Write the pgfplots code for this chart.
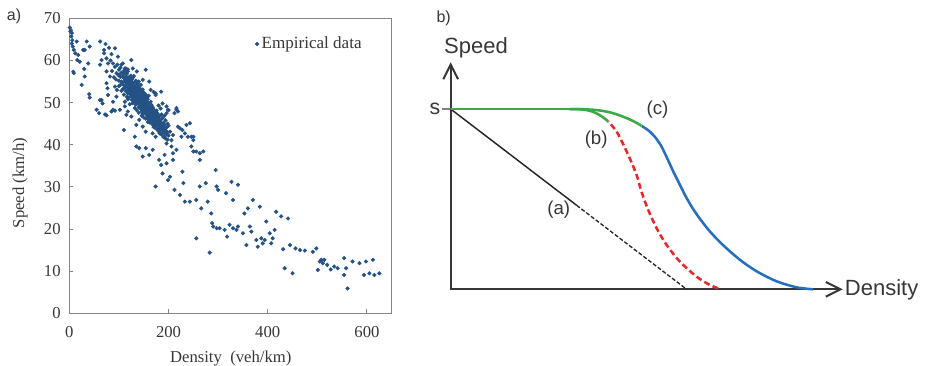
\documentclass[border=0pt]{standalone}
\usepackage{pgfplots}
\pgfplotsset{compat=1.18}
\usepackage{pgfplotstable}
\usetikzlibrary{arrows.meta}
\usepackage{fontspec}
\setmainfont{Liberation Serif}
\newfontfamily\arial{Liberation Sans}
\definecolor{dotblue}{RGB}{36,82,132}
\definecolor{textgray}{RGB}{55,55,55}
\definecolor{axgray}{RGB}{55,55,55}
\definecolor{framegray}{RGB}{134,134,134}
\definecolor{cgreen}{RGB}{60,168,70}
\definecolor{cblue}{RGB}{40,110,190}
\definecolor{cred}{RGB}{232,40,40}

\pgfplotstableread{
x y
1 67.8
2 66.9
3 67.2
4 65.7
5 66.5
6 64.8
5 64.0
7 63.3
9 62.5
15 64.5
18 61.3
16 60.1
21 59.7
9 57.0
25 54.2
35 64.5
31 62.5
30 58.0
31 56.2
40 52.0
41 51.2
38 59.3
41 63.3
12 61.7
28 62.5
8 57.3
55 48.3
60 47.5
65 50.6
67 49.8
62 59.0
65 60.1
62 64.5
73 63.9
75 47.0
70 62.5
70 61.7
75 60.5
78 59.3
82 56.2
77 53.4
75 57.4
85 47.9
92 62.9
88 59.3
92 58.5
95 57.0
92 53.8
95 51.4
88 48.3
98 60.9
72 47.2
62 50.6
88 50.2
92 48.1
78 51.8
75 54.6
83 60.0
86 57.5
94 55.5
97 59.0
80 63.0
85 61.5
90 56.0
96 53.0
99 56.5
100 55.2
100 57.8
100 53.9
100 56.6
103 56.1
103 54.2
103 58.3
105 55.0
105 57.1
105 52.8
105 59.0
108 56.3
108 54.7
108 53.2
110 55.8
110 57.6
110 51.9
110 54.1
110 56.9
112 53.5
112 55.4
112 58.1
112 50.2
114 54.9
114 56.2
114 52.7
114 57.3
114 53.8
116 55.6
116 51.4
116 54.3
116 56.8
118 53.1
118 55.0
118 52.2
118 57.9
118 54.6
118 50.8
120 54.4
120 56.0
120 52.9
120 53.6
120 51.2
120 55.3
122 53.8
122 55.7
122 52.1
122 54.9
122 49.6
124 52.6
124 54.2
124 56.4
124 51.5
124 53.3
124 55.1
126 53.9
126 52.0
126 55.5
126 50.7
126 54.6
128 52.8
128 54.0
128 51.3
128 55.9
128 53.2
128 49.9
128 52.4
130 53.5
130 51.8
130 54.7
130 50.6
130 52.9
130 56.3
132 52.2
132 53.9
132 50.1
132 54.8
132 51.5
132 48.7
134 51.9
134 53.3
134 50.8
134 55.2
134 52.6
134 49.5
136 52.7
136 50.4
136 54.1
136 51.2
136 53.6
136 48.2
138 51.4
138 53.0
138 49.8
138 52.3
138 54.6
138 50.9
140 50.6
140 52.5
140 48.9
140 53.8
140 51.7
140 47.6
140 55.0
142 51.1
142 49.7
142 52.9
142 50.3
142 53.4
144 50.2
144 51.8
144 48.5
144 52.6
144 49.3
144 54.2
146 49.9
146 51.3
146 47.8
146 52.0
146 50.7
146 46.9
148 50.5
148 48.8
148 51.9
148 49.4
148 53.1
148 47.3
150 49.6
150 51.0
150 48.2
150 50.3
150 52.4
150 46.5
150 49.0
152 50.1
152 48.6
152 51.5
152 47.5
152 49.9
154 49.2
154 50.7
154 47.9
154 48.5
154 51.9
154 46.2
156 48.8
156 50.2
156 47.1
156 49.6
156 51.3
158 48.1
158 49.5
158 46.6
158 50.8
158 47.7
158 45.4
160 48.6
160 47.2
160 49.9
160 46.0
160 48.0
160 51.6
162 47.8
162 49.1
162 46.4
162 48.5
162 45.3
164 47.3
164 48.7
164 45.9
164 50.2
164 46.8
166 46.9
166 48.2
166 45.1
166 47.6
166 49.4
168 47.5
168 46.1
168 48.9
168 44.8
168 46.6
170 46.3
170 47.9
170 45.5
170 48.4
170 44.2
170 52.5
172 45.9
172 47.2
172 44.6
172 46.7
174 46.5
174 45.2
174 47.8
174 43.9
174 51.8
176 45.7
176 44.4
176 46.9
176 48.1
178 45.0
178 46.3
178 43.6
178 47.4
180 44.8
180 46.0
180 43.2
180 45.5
180 49.3
182 45.3
182 44.1
182 46.8
182 42.7
184 44.6
184 43.5
184 45.9
184 48.6
186 43.9
186 45.1
186 42.4
186 47.2
188 44.3
188 42.9
188 46.3
190 43.6
190 45.2
190 41.8
190 44.0
192 42.8
192 44.7
192 46.9
194 43.4
194 41.5
194 45.8
196 42.5
196 44.1
196 47.5
198 43.0
198 41.2
198 45.0
200 42.2
200 44.5
200 48.2
108 59.3
114 58.1
118 57.4
125 60.1
128 58.1
136 57.4
154 57.8
148 55.4
161 55.0
164 53.0
174 52.2
185 52.6
188 49.8
196 49.1
199 48.3
102 48.3
115 47.1
118 47.9
125 46.7
112 49.1
135 44.7
141 45.9
148 44.3
154 43.1
160 45.5
168 42.7
174 41.9
180 43.5
192 41.9
196 40.3
110 43.5
132 41.9
135 39.6
141 39.2
148 37.2
154 39.2
161 37.6
168 38.8
174 30.1
181 36.4
185 35.2
188 33.2
196 35.6
199 31.6
192 37.6
203 32.4
206 39.6
209 38.0
212 29.3
223 28.1
228 33.6
230 30.9
233 26.5
243 26.5
246 39.6
250 38.4
256 26.9
256 17.8
263 30.1
263 36.4
266 24.9
270 38.4
275 30.9
279 26.5
283 14.4
286 23.7
288 21.4
290 20.6
295 34.0
297 30.1
297 20.2
300 29.3
303 20.2
313 19.8
316 28.5
318 18.2
323 21.0
327 31.2
330 26.9
330 20.2
337 19.8
340 30.5
340 20.6
350 19.0
353 23.7
357 16.2
360 24.9
364 20.6
367 19.4
370 26.9
377 17.4
380 15.8
384 25.3
387 17.8
390 16.6
394 17.4
397 21.8
404 19.0
407 16.6
410 17.8
414 19.8
417 24.1
427 23.0
431 15.2
434 10.7
441 22.5
445 16.2
450 9.5
456 15.4
465 15.0
475 14.9
491 14.6
498 15.4
501 10.3
505 12.3
508 12.7
511 11.9
514 12.7
520 11.5
527 10.4
534 11.1
541 10.7
554 9.1
554 13.1
558 10.7
561 5.9
571 12.3
585 11.9
594 9.1
598 12.3
605 9.5
612 12.7
615 9.1
625 9.5
203 43.1
206 41.1
209 42.3
212 47.5
216 48.3
219 44.3
223 43.9
226 41.9
228 43.5
233 42.7
236 44.7
239 41.9
243 45.1
246 41.9
250 41.1
250 41.9
256 38.4
263 38.0
216 38.8
209 36.4
216 48.7
219 47.9
}\scatterdata

\begin{document}
\begin{tikzpicture}
\useasboundingbox (0,0) rectangle (693.75pt,274.5pt);
\node[font=\arial\fontsize{12}{14}\selectfont, text=textgray] at (10.5pt,262.5pt) {a)};

\begin{axis}[
  at={(52pt,39.5pt)}, anchor=south west,
  scale only axis, width=241.8pt, height=221.25pt,
  xmin=0, xmax=650, ymin=0, ymax=70,
  xtick={0,200,400,600}, ytick={0,10,...,70},
  tick align=inside, major tick length=3pt, tick pos=left,
  axis line style={draw=framegray, line width=0.8pt},
  tick style={draw=framegray, line width=0.8pt},
  ticklabel style={font=\fontsize{12.5}{14}\selectfont, text=textgray},
  /pgf/number format/assume math mode=true,
  xticklabel style={yshift=-6.5pt},
  yticklabel style={xshift=-3pt},
  xlabel={Density\ \ (veh/km)},
  xlabel style={at={(axis description cs:0.5006,-0.166)}, anchor=base, font=\fontsize{12.5}{14}\selectfont, text=textgray},
  ylabel={Speed (km/h)},
  ylabel style={at={(axis description cs:-0.1526,0.4417)}, anchor=center, font=\fontsize{12.5}{14}\selectfont, text=textgray},
  legend style={at={(axis description cs:0.572,0.913)}, anchor=west, draw=none, fill=none, font=\fontsize{12.8}{14}\selectfont, text=textgray, inner sep=1pt},
  legend image code/.code={\draw[mark repeat=2,mark phase=2,#1] plot coordinates {(0cm,0cm) (0.1cm,0cm) (0.28cm,0cm)};},
  clip=false,
]
\addplot[only marks, mark=*, mark size=1.35pt, color=dotblue] table {\scatterdata};
\addlegendentry{Empirical data}
\end{axis}

\begin{axis}[
  at={(338pt,57.5pt)}, anchor=south west,
  scale only axis, width=294pt, height=170.25pt,
  xmin=0, xmax=392, ymin=0, ymax=227,
  hide axis, clip=false,
]
% axes
\addplot[axgray, line width=1.5pt, {Straight Barb[length=11pt,width=11pt]}-{Straight Barb[length=11pt,width=11pt]}] coordinates {(0,227) (0,0) (392,0)};
\addplot[gray, line width=1pt] coordinates {(-9,180.3) (0,180.3)};
% (a)
\addplot[black!85, line width=1.1pt] coordinates {(0,180.3) (126,84)};
\addplot[black!85, line width=1pt, dash pattern=on 3pt off 1.5pt] coordinates {(126,84) (236,0)};
% (b): red dashed part after the junction, green part before it
\begin{scope}
\clip (axis cs:157.6,-10) rectangle (axis cs:300,200);
\addplot[cred, line width=1.9pt, dash pattern=on 4.5pt off 2.5pt, smooth, tension=0.5] coordinates {(118,180.3) (128,180.1) (136,179.2) (143,177.3) (150,173.6) (157.6,167.8) (166,157.6) (172.6,145) (179.3,130.5) (186,114.3) (191,97) (197.6,79.3) (206,61) (216,44.3) (229.3,27.6) (246,12.6) (259.3,4.3) (269.3,0.3)};
\end{scope}
\begin{scope}
\clip (axis cs:100,150) rectangle (axis cs:157.6,200);
\addplot[cgreen, line width=1.9pt, smooth, tension=0.5] coordinates {(118,180.3) (128,180.1) (136,179.2) (143,177.3) (150,173.6) (157.6,167.8) (166,157.6) (172.6,145) (179.3,130.5) (186,114.3) (191,97) (197.6,79.3) (206,61) (216,44.3) (229.3,27.6) (246,12.6) (259.3,4.3) (269.3,0.3)};
\end{scope}
% (c): blue after the junction, green before it
\begin{scope}
\clip (axis cs:191,-10) rectangle (axis cs:400,200);
\addplot[cblue, line width=1.9pt, smooth, tension=0.5] coordinates {(120,180.3) (135,180.0) (148,179.0) (160,176.8) (172,172.8) (183,168) (191,163.4) (198.5,158.3) (205,151.5) (211,142.5) (217,130) (223,117) (229,105) (235,93) (242,81) (250,69.5) (260,57) (272.6,44) (289.3,29.5) (306,18) (326,8) (346,2) (362.6,0)};
\end{scope}
\begin{scope}
\clip (axis cs:100,150) rectangle (axis cs:191,200);
\addplot[cgreen, line width=1.9pt, smooth, tension=0.5] coordinates {(120,180.3) (135,180.0) (148,179.0) (160,176.8) (172,172.8) (183,168) (191,163.4) (198.5,158.3) (205,151.5) (211,142.5) (217,130) (223,117) (229,105) (235,93) (242,81) (250,69.5) (260,57) (272.6,44) (289.3,29.5) (306,18) (326,8) (346,2) (362.6,0)};
\end{scope}
\addplot[cgreen, line width=1.9pt] coordinates {(0,180.3) (121,180.3)};
% labels
\node[font=\arial\fontsize{14}{16}\selectfont, text=textgray] at (axis cs:206.8,179.3) {(c)};
\node[font=\arial\fontsize{14}{16}\selectfont, text=textgray] at (axis cs:145.5,149.3) {(b)};
\node[font=\arial\fontsize{14}{16}\selectfont, text=textgray] at (axis cs:108.1,79.3) {(a)};
\node[font=\arial\fontsize{16}{18}\selectfont, text=textgray] at (axis cs:-15.7,180.3) {s};
\node[font=\arial\fontsize{16.5}{19}\selectfont, text=textgray, anchor=base, inner sep=0pt] at (axis cs:25.3,236.3) {Speed};
\node[font=\arial\fontsize{16.5}{19}\selectfont, text=textgray, anchor=base west, inner sep=0pt] at (axis cs:394,-5.7) {Density};
\node[font=\arial\fontsize{12}{14}\selectfont, text=textgray] at (axis cs:-7,271) {b)};
\end{axis}
\end{tikzpicture}
\end{document}
